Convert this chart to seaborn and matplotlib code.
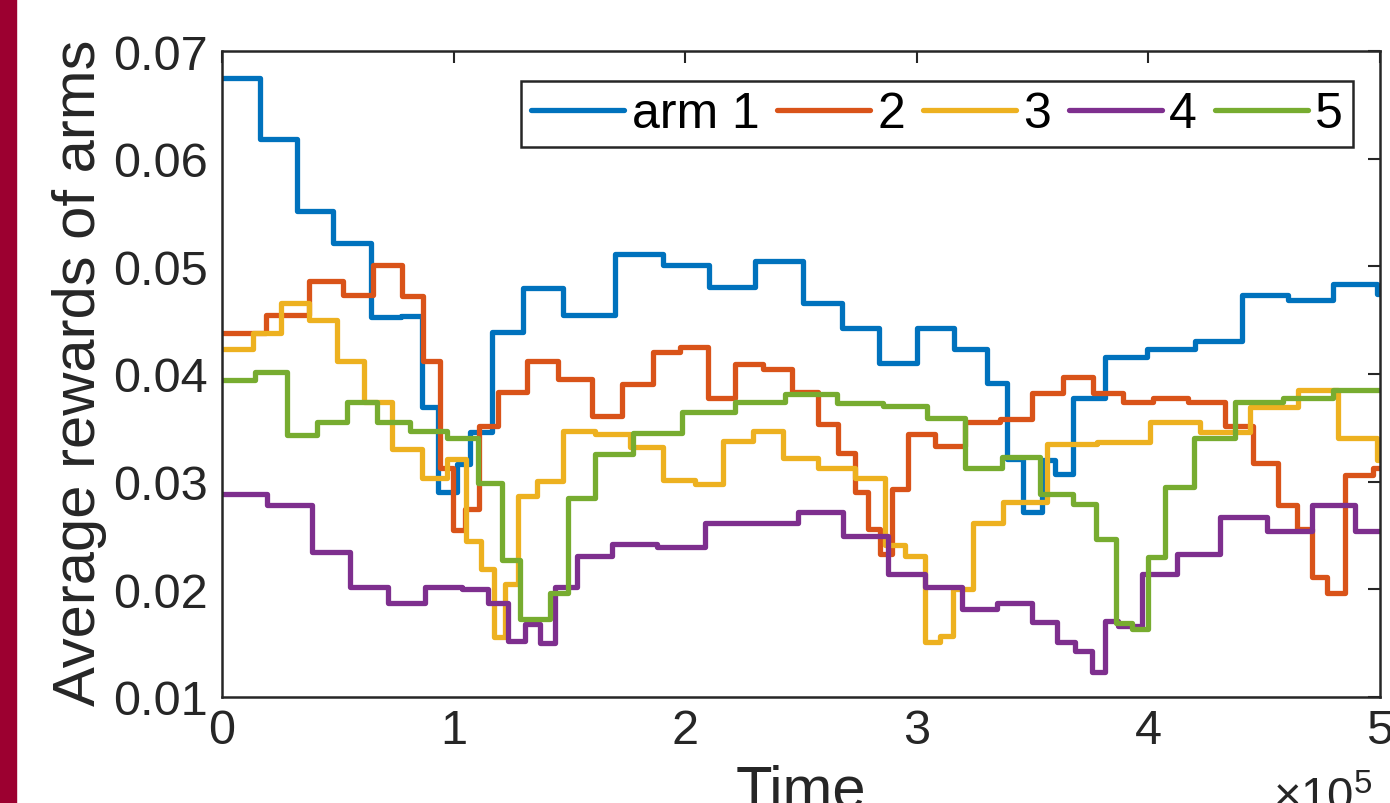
import matplotlib
matplotlib.use("Agg")
import matplotlib.pyplot as plt
from matplotlib.patches import Rectangle
from matplotlib.ticker import FuncFormatter
import seaborn as sns
import pandas as pd

# ---------------- data (time in thousands of steps, reward) ----------------
arm_labels = ["arm 1", "2", "3", "4", "5"]
arm_colors = ["#0072BD", "#D95319", "#EDB120", "#7E2F8E", "#77AC30"]
t_end = 500.0

t_arm1 = [0, 16.4, 32.4, 47.9, 64.3, 77.3, 86.4, 93.3, 101.3, 107.1, 116.5, 130.1,
          147.4, 169.7, 190.3, 210.4, 230.1, 250.7, 267.8, 283.8, 300.2, 316.1,
          330.2, 338.8, 346.0, 353.9, 359.7, 367.6, 381.3, 399.3, 420.1, 440.3,
          460.4, 479.8, 498.6]
r_arm1 = [0.0675, 0.0618, 0.0551, 0.0522, 0.0453, 0.0454, 0.0369, 0.0290, 0.0316,
          0.0346, 0.0439, 0.0480, 0.0455, 0.0511, 0.0501, 0.0481, 0.0505, 0.0466,
          0.0443, 0.0410, 0.0443, 0.0423, 0.0392, 0.0321, 0.0272, 0.0320, 0.0307,
          0.0378, 0.0416, 0.0423, 0.0431, 0.0473, 0.0469, 0.0484, 0.0474]

t_arm2 = [0, 19.0, 37.7, 52.4, 65.3, 77.6, 86.9, 94.1, 99.9, 104.9, 111.1, 119.3,
          131.6, 145.2, 159.6, 172.6, 186.2, 197.8, 210.0, 221.5, 233.7, 246.0,
          257.5, 266.1, 273.3, 279.1, 284.1, 289.2, 296.3, 307.9, 320.8, 335.9,
          349.6, 363.3, 376.2, 389.2, 402.1, 417.2, 433.1, 445.3, 456.1, 464.0,
          470.5, 477.0, 484.9, 497.1]
r_arm2 = [0.0438, 0.0455, 0.0486, 0.0473, 0.0501, 0.0472, 0.0412, 0.0313, 0.0255,
          0.0275, 0.0352, 0.0383, 0.0412, 0.0395, 0.0361, 0.0391, 0.0420, 0.0425,
          0.0378, 0.0409, 0.0405, 0.0383, 0.0354, 0.0327, 0.0290, 0.0256, 0.0233,
          0.0293, 0.0344, 0.0333, 0.0355, 0.0358, 0.0382, 0.0397, 0.0382, 0.0374,
          0.0378, 0.0374, 0.0352, 0.0317, 0.0278, 0.0256, 0.0211, 0.0197, 0.0306,
          0.0313]

t_arm3 = [0, 13.3, 25.3, 37.6, 49.8, 61.3, 73.3, 86.2, 97.0, 105.4, 111.7, 117.6,
          122.2, 127.9, 135.9, 147.4, 161.1, 176.2, 190.5, 204.2, 216.5, 229.4,
          242.4, 257.5, 273.3, 286.3, 294.9, 303.5, 310.0, 315.8, 324.4, 337.4,
          356.1, 377.7, 400.7, 422.3, 443.9, 464.7, 482.0, 498.6]
r_arm3 = [0.0423, 0.0438, 0.0466, 0.0450, 0.0412, 0.0374, 0.0330, 0.0303, 0.0321,
          0.0245, 0.0219, 0.0156, 0.0205, 0.0287, 0.0301, 0.0347, 0.0344, 0.0332,
          0.0302, 0.0298, 0.0338, 0.0347, 0.0322, 0.0313, 0.0303, 0.0241, 0.0231,
          0.0151, 0.0157, 0.0200, 0.0262, 0.0281, 0.0335, 0.0337, 0.0355, 0.0346,
          0.0369, 0.0385, 0.0341, 0.0320]

t_arm4 = [0, 19.3, 38.7, 55.3, 71.8, 87.7, 103.5, 115.0, 123.6, 130.8, 137.3, 143.8,
          153.2, 168.3, 187.7, 208.5, 248.8, 268.3, 287.7, 303.5, 319.4, 334.5,
          349.6, 360.4, 368.3, 375.5, 381.3, 387.0, 397.1, 412.2, 430.9, 451.1,
          470.5, 489.2]
r_arm4 = [0.0289, 0.0278, 0.0235, 0.0202, 0.0187, 0.0202, 0.0200, 0.0187, 0.0152,
          0.0168, 0.0150, 0.0202, 0.0231, 0.0242, 0.0239, 0.0262, 0.0272, 0.0250,
          0.0214, 0.0202, 0.0182, 0.0187, 0.0170, 0.0151, 0.0143, 0.0123, 0.0171,
          0.0166, 0.0214, 0.0233, 0.0267, 0.0254, 0.0278, 0.0254]

t_arm5 = [0, 14.2, 27.9, 40.9, 53.8, 66.8, 81.2, 97.0, 110.7, 120.8, 128.7, 141.6,
          149.5, 161.1, 177.6, 198.5, 221.5, 243.1, 265.4, 285.5, 304.3, 320.8,
          336.7, 353.2, 367.6, 377.4, 386.0, 392.8, 400.0, 407.2, 419.7, 437.4,
          458.3, 479.8]
r_arm5 = [0.0394, 0.0402, 0.0343, 0.0355, 0.0374, 0.0355, 0.0347, 0.0341, 0.0299,
          0.0227, 0.0172, 0.0197, 0.0285, 0.0326, 0.0345, 0.0365, 0.0374, 0.0381,
          0.0373, 0.0370, 0.0359, 0.0313, 0.0323, 0.0289, 0.0279, 0.0247, 0.0169,
          0.0163, 0.0230, 0.0295, 0.0341, 0.0374, 0.0378, 0.0385]

x_ticks = [0, 1, 2, 3, 4, 5]
y_ticks = [0.01, 0.02, 0.03, 0.04, 0.05, 0.06, 0.07]

# ---------------- build long table ----------------
rows = []
for lab, ts, rs in zip(arm_labels,
                       [t_arm1, t_arm2, t_arm3, t_arm4, t_arm5],
                       [r_arm1, r_arm2, r_arm3, r_arm4, r_arm5]):
    for t, r in zip(ts + [t_end], rs + [rs[-1]]):
        rows.append({"Time": t * 1000.0, "reward": r, "arm": lab})
df = pd.DataFrame(rows)

# ---------------- style ----------------
sns.set_theme(style="white")
plt.rcParams["font.family"] = ["Liberation Sans", "DejaVu Sans"]
plt.rcParams["mathtext.fontset"] = "custom"
plt.rcParams["mathtext.rm"] = "Liberation Sans"
plt.rcParams["mathtext.it"] = "Liberation Sans:italic"
TXT = "#262626"

W, H = 1390, 804
fig = plt.figure(figsize=(W / 100, H / 100), dpi=100)
L, R, T, B = 222, 1380, 52, 698
ax = fig.add_axes([L / W, 1 - B / H, (R - L) / W, (B - T) / H])

sns.lineplot(data=df, x="Time", y="reward", hue="arm", hue_order=arm_labels,
             palette=arm_colors, estimator=None, sort=False, drawstyle="steps-post",
             linewidth=3.8, legend=False, ax=ax)

ax.set_xlim(0, 5e5)
ax.set_ylim(0.01, 0.07)
ax.set_xticks([v * 1e5 for v in x_ticks])
ax.xaxis.set_major_formatter(FuncFormatter(lambda v, p: f"{v / 1e5:g}"))
ax.set_yticks(y_ticks)
ax.set_yticklabels([f"{v:.2f}" for v in y_ticks])

ax.tick_params(axis="both", which="both", direction="in", length=8.6, width=1.5,
               top=True, right=True, labelsize=35, colors=TXT, labelcolor=TXT)
ax.tick_params(axis="y", pad=10)
ax.tick_params(axis="x", pad=8)
for s in ax.spines.values():
    s.set_visible(True)
    s.set_color(TXT)
    s.set_linewidth(1.8)

ax.set_xlabel("Time", fontsize=43, color=TXT)
ax.xaxis.set_label_coords(0.5, -(808 - B) / (B - T))
ax.xaxis.label.set_verticalalignment("baseline")
ax.set_ylabel("Average rewards of arms", fontsize=43, color=TXT)
ax.yaxis.set_label_coords(-(L - 107) / (R - L), 0.504)

# x-axis multiplier
fig.text(1273 / W, 1 - 811 / H, r"$\times10^{5}$", fontsize=34, color=TXT,
         ha="left", va="baseline")

# legend
leg = ax.legend(ax.get_lines(), arm_labels, ncol=5, loc="upper right",
                bbox_to_anchor=((1353 - L) / (R - L), 1 - (82 - T) / (B - T)),
                borderaxespad=0, fontsize=36, handlelength=1.86,
                handletextpad=0.15, columnspacing=0.35, borderpad=0.2,
                frameon=True, fancybox=False, framealpha=1, edgecolor=TXT)
leg.get_frame().set_linewidth(1.8)
for txt in leg.get_texts():
    txt.set_color("black")

# left crimson strip
fig.add_artist(Rectangle((0, 0), 16 / W, 1, transform=fig.transFigure,
                         color="#9c0030", zorder=10))

fig.savefig("out.png", dpi=100)
